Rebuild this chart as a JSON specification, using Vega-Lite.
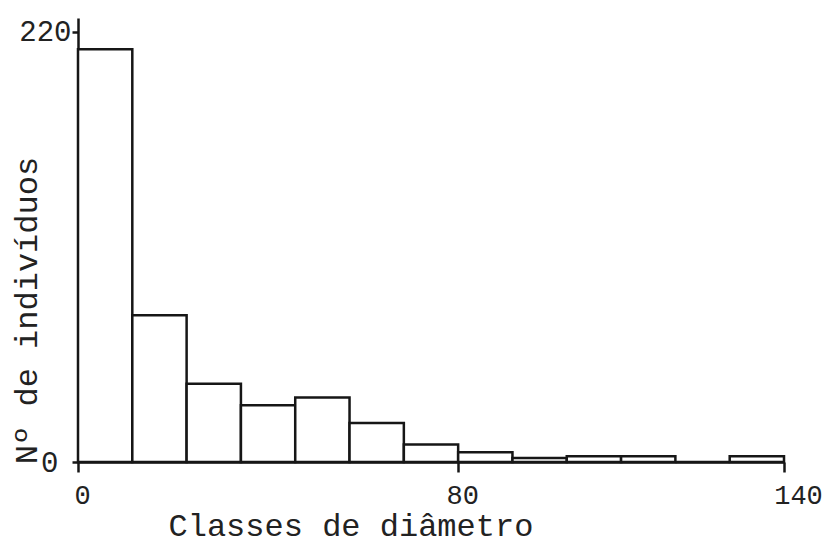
{
  "$schema": "https://vega.github.io/schema/vega-lite/v6.json",
  "width": 706,
  "height": 444,
  "autosize": {"type": "none"},
  "padding": {"left": 78, "top": 18, "right": 41, "bottom": 81},
  "background": "white",
  "config": {"view": {"stroke": null}, "font": "Liberation Mono"},
  "data": {
    "values": [
      {"classe": 1, "inicio": 0, "fim": 1, "individuos": 211},
      {"classe": 2, "inicio": 1, "fim": 2, "individuos": 75},
      {"classe": 3, "inicio": 2, "fim": 3, "individuos": 40},
      {"classe": 4, "inicio": 3, "fim": 4, "individuos": 29},
      {"classe": 5, "inicio": 4, "fim": 5, "individuos": 33},
      {"classe": 6, "inicio": 5, "fim": 6, "individuos": 20},
      {"classe": 7, "inicio": 6, "fim": 7, "individuos": 9},
      {"classe": 8, "inicio": 7, "fim": 8, "individuos": 5},
      {"classe": 9, "inicio": 8, "fim": 9, "individuos": 2},
      {"classe": 10, "inicio": 9, "fim": 10, "individuos": 3},
      {"classe": 11, "inicio": 10, "fim": 11, "individuos": 3},
      {"classe": 12, "inicio": 11, "fim": 12, "individuos": 0},
      {"classe": 13, "inicio": 12, "fim": 13, "individuos": 3}
    ]
  },
  "mark": {"type": "bar", "fill": "white", "stroke": "#161616", "strokeWidth": 2.5},
  "encoding": {
    "x": {
      "field": "inicio",
      "type": "quantitative",
      "scale": {"domain": [0, 13], "nice": false, "zero": false},
      "axis": {
        "values": [0, 7, 13],
        "labelExpr": "datum.value == 0 ? '0' : datum.value == 7 ? '80' : '140'",
        "title": "Classes de diâmetro",
        "titleFont": "Liberation Mono",
        "titleFontSize": 32,
        "titleFontWeight": "normal",
        "titleColor": "#222222",
        "titleX": 90,
        "titleY": 73,
        "titleAlign": "left",
        "titleAnchor": "start",
        "titleBaseline": "alphabetic",
        "labelFont": "Liberation Mono",
        "labelFontSize": 27,
        "labelColor": "#222222",
        "labelPadding": 10,
        "labelOffset": {"condition": {"test": "datum.value == 13", "value": 14}, "value": 4},
        "labelFlush": false,
        "labelOverlap": false,
        "tickSize": 10,
        "tickWidth": 2.5,
        "tickColor": "#161616",
        "domainColor": "#161616",
        "domainWidth": 2.5,
        "grid": false
      }
    },
    "x2": {"field": "fim"},
    "y": {
      "field": "individuos",
      "type": "quantitative",
      "scale": {"domain": [0, 227], "nice": false},
      "axis": {
        "values": [0, 220],
        "title": "Nº de indivíduos",
        "titleFont": "Liberation Mono",
        "titleFontSize": 32,
        "titleFontWeight": "normal",
        "titleColor": "#222222",
        "titleAngle": 270,
        "titleX": -42,
        "titleY": 292,
        "titleAlign": "center",
        "titleBaseline": "alphabetic",
        "labelFont": "Liberation Mono",
        "labelFontSize": 29,
        "labelColor": "#222222",
        "labelPadding": {"condition": {"test": "datum.value == 0", "value": 14}, "value": 1},
        "tickSize": 6,
        "tickWidth": 2.5,
        "tickColor": "#161616",
        "domainColor": "#161616",
        "domainWidth": 2.5,
        "grid": false
      }
    },
    "y2": {"datum": 0}
  }
}
